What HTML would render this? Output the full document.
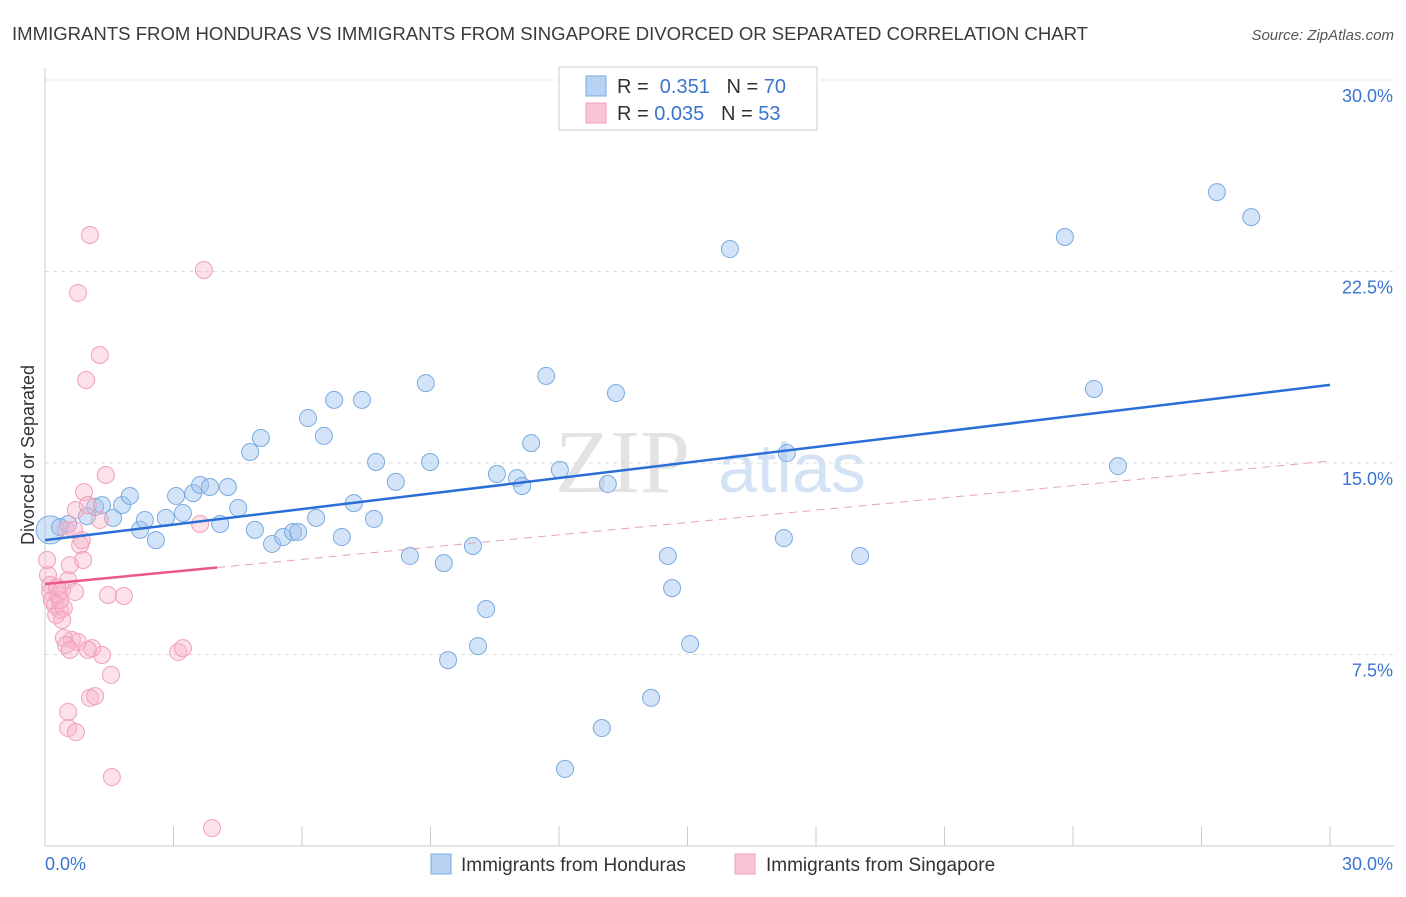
<!DOCTYPE html>
<html><head><meta charset="utf-8"><style>
body{margin:0;background:#fff;font-family:"Liberation Sans",sans-serif}
</style></head><body>
<svg width="1406" height="892" xmlns="http://www.w3.org/2000/svg" font-family="Liberation Sans, sans-serif">
<text x="12" y="40" font-size="18" fill="#3a3a3a" textLength="1076" lengthAdjust="spacingAndGlyphs">IMMIGRANTS FROM HONDURAS VS IMMIGRANTS FROM SINGAPORE DIVORCED OR SEPARATED CORRELATION CHART</text>
<text x="1394" y="40" font-size="15" fill="#555" text-anchor="end" font-style="italic">Source: ZipAtlas.com</text>
<g><text x="555" y="492" font-size="90" fill="#ddd" font-family="Liberation Serif, serif" opacity="0.8">ZIP</text><text x="718" y="492" font-size="70" fill="#c9dcf2" opacity="0.8">atlas</text></g>
<g id="grid"></g><g id="axes"></g><g id="marks"></g>
<text transform="translate(34,455) rotate(-90)" font-size="18" fill="#333" text-anchor="middle">Divorced or Separated</text>
<g>
<rect x="559" y="67" width="258" height="63" fill="#fff" stroke="#ccc"/>
<rect x="586" y="76" width="20" height="20" fill="#b8d2f4" stroke="#7aaae0"/>
<rect x="586" y="103" width="20" height="20" fill="#f9c4d4" stroke="#f0a0b8"/>
<text x="617" y="93" font-size="20" fill="#333">R = <tspan fill="#3a74d0">&#160;0.351</tspan>&#160;&#160;&#160;N = <tspan fill="#3a74d0">70</tspan></text>
<text x="617" y="120" font-size="20" fill="#333">R = <tspan fill="#3a74d0">0.035</tspan>&#160;&#160;&#160;N = <tspan fill="#3a74d0">53</tspan></text>
</g>
<g>
<rect x="431" y="854" width="20" height="20" fill="#b8d2f4" stroke="#7aaae0"/>
<text x="461" y="871" font-size="19" fill="#333">Immigrants from Honduras</text>
<rect x="735" y="854" width="20" height="20" fill="#f9c4d4" stroke="#f0a0b8"/>
<text x="766" y="871" font-size="19" fill="#333">Immigrants from Singapore</text>
</g>
</svg>
<script>
const yTicks=[7.5,15.0,22.5,30.0];
const hondurasX=[0.12,0.54,0.35,0.98,1.17,1.33,1.59,1.80,1.98,2.22,2.33,2.59,2.82,3.06,3.22,3.46,3.62,3.85,4.09,4.27,4.51,4.90,4.79,5.04,5.30,5.56,5.79,5.91,6.14,6.33,6.51,6.75,6.93,7.21,7.40,7.68,7.73,8.19,8.52,8.89,8.99,9.31,9.41,9.99,10.11,10.30,10.55,11.02,11.14,11.35,11.70,12.02,12.14,13.00,13.14,13.33,14.15,14.54,14.64,15.06,15.99,17.25,17.32,19.03,23.81,24.49,25.05,27.36,28.16];
const hondurasY=[12.38,12.61,12.49,12.92,13.28,13.35,12.85,13.35,13.71,12.38,12.77,11.98,12.85,13.71,13.04,13.82,14.14,14.06,12.61,14.06,13.24,12.38,15.43,15.98,11.83,12.10,12.30,12.30,16.76,12.85,16.06,17.47,12.10,13.43,17.47,12.81,15.04,14.26,11.36,18.13,15.04,11.08,7.28,11.75,7.83,9.28,14.57,14.41,14.10,15.78,18.41,14.73,3.02,4.62,14.18,17.74,5.80,11.36,10.10,7.91,23.38,12.06,15.39,11.36,23.85,17.90,14.88,25.61,24.63];
const singaporeX=[0.05,0.07,0.12,0.12,0.16,0.23,0.26,0.30,0.35,0.40,0.44,0.49,0.54,0.58,0.63,0.68,0.72,0.82,0.86,0.89,0.91,0.96,1.00,1.05,0.77,1.28,1.28,1.33,1.42,1.47,1.54,1.56,1.05,1.10,1.17,0.54,0.54,0.72,0.77,0.44,0.49,0.58,0.35,0.40,1.84,3.11,3.22,3.62,3.71,3.90,0.70,1.00,0.28];
const singaporeY=[11.20,10.61,10.22,9.95,9.63,9.44,9.05,9.83,9.24,10.03,9.32,12.38,10.42,11.00,8.07,12.38,13.16,11.79,11.98,11.20,13.86,18.25,13.35,23.93,21.66,19.23,12.77,7.48,14.53,9.83,6.70,2.70,5.80,7.75,5.87,5.25,4.62,4.46,7.99,8.15,7.87,7.68,9.63,8.85,9.79,7.60,7.75,12.61,22.56,0.70,9.95,7.68,10.14];
const hondurasTrend=[11.98,18.06];
const singaporeTrend=[10.26,15.08];
const singaporeSolidEnd=4.02;
const NS="http://www.w3.org/2000/svg";
const X=v=>45+v/30*1285, Y=v=>846-v/30*766;
function mk(t,a,p){const e=document.createElementNS(NS,t);for(const k in a)e.setAttribute(k,a[k]);p.appendChild(e);return e;}
const grid=document.getElementById('grid'),axes=document.getElementById('axes'),marks=document.getElementById('marks');
yTicks.forEach(t=>{
 const l=mk('line',{x1:45,x2:1394,y1:Y(t),y2:Y(t),stroke:'#ddd','stroke-dasharray':'4,4'},grid);
 
 
 const tx=mk('text',{x:1393,y:Y(t)+22,'font-size':18,fill:'#3a74d0','text-anchor':'end'},axes);
 tx.textContent=t.toFixed(1)+'%';
 
 
});
const xl=mk('line',{x1:45,x2:1394,y1:846,y2:846,stroke:'#ccc'},axes);


const yl=mk('line',{x1:45,x2:45,y1:68,y2:846,stroke:'#ccc'},axes);


for(let i=0;i<=10;i++){const t=mk('line',{x1:X(i*3),x2:X(i*3),y1:826,y2:846,stroke:'#ccc'},axes);
 
 }
[['0.0%',45,'start'],['30.0%',1393,'end']].forEach(a=>{const t=mk('text',{x:a[1],y:870,'font-size':18,fill:'#3a74d0','text-anchor':a[2]},axes);t.textContent=a[0];
 
 });
hondurasX.forEach((v,i)=>{const c=mk('circle',{cx:X(v),cy:Y(hondurasY[i]),r:i==0?14:8.5,fill:'rgba(160,196,240,0.45)',stroke:'#7aaae0','stroke-width':1},marks);
 
 });
singaporeX.forEach((v,i)=>{const c=mk('circle',{cx:X(v),cy:Y(singaporeY[i]),r:8.5,fill:'rgba(248,180,200,0.4)',stroke:'#f0a0b8','stroke-width':1},marks);
 
 });
const sAt=x=>singaporeTrend[0]+(singaporeTrend[1]-singaporeTrend[0])*x/30;
const d=mk('line',{x1:X(singaporeSolidEnd),y1:Y(sAt(singaporeSolidEnd)),x2:X(30),y2:Y(singaporeTrend[1]),stroke:'#e8a0b8','stroke-dasharray':'8,6','stroke-width':1},marks);


const s=mk('line',{x1:X(0),y1:Y(singaporeTrend[0]),x2:X(singaporeSolidEnd),y2:Y(sAt(singaporeSolidEnd)),stroke:'#e8588a','stroke-width':2.5},marks);


const h=mk('line',{x1:X(0),y1:Y(hondurasTrend[0]),x2:X(30),y2:Y(hondurasTrend[1]),stroke:'#2a6fd6','stroke-width':2.5},marks);


</script>
</body></html>
